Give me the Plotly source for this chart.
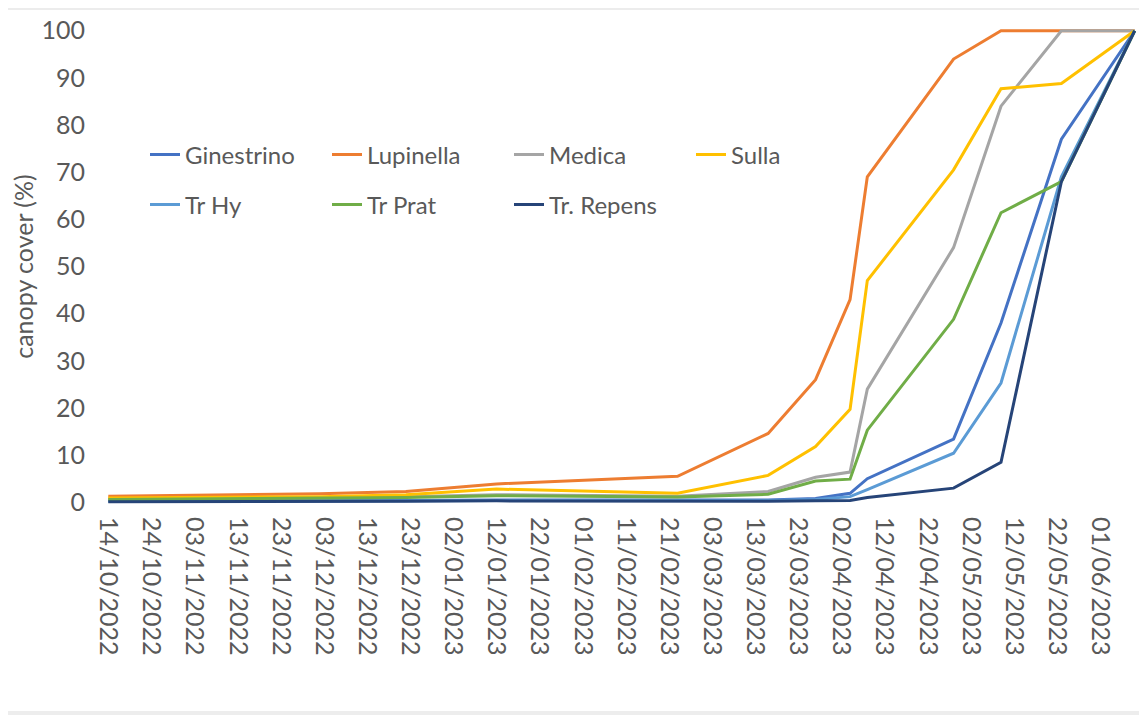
import plotly.graph_objects as go
import pandas as pd

dates = ["2022-10-14", "2022-12-02", "2022-12-22", "2023-01-12", "2023-02-23",
         "2023-03-16", "2023-03-27", "2023-04-04", "2023-04-08", "2023-04-28",
         "2023-05-09", "2023-05-23", "2023-06-09"]

ginestrino = [0.3, 0.3, 0.4, 0.5, 0.4, 0.5, 0.8, 1.9, 5.0, 13.4, 38.0, 77.0, 100]
lupinella = [1.3, 1.8, 2.3, 3.9, 5.5, 14.6, 26.0, 43.0, 69.0, 94.0, 100, 100, 100]
medica = [0.7, 0.9, 1.2, 1.6, 1.3, 2.3, 5.3, 6.4, 24.0, 54.0, 84.0, 100, 100]
sulla = [0.9, 1.2, 1.6, 2.8, 1.9, 5.7, 11.8, 19.7, 47.0, 70.5, 87.7, 88.8, 100]
tr_hy = [0.2, 0.2, 0.3, 0.4, 0.3, 0.4, 0.6, 1.2, 2.7, 10.4, 25.3, 69.0, 100]
tr_prat = [0.6, 0.8, 1.0, 1.4, 1.1, 1.7, 4.5, 4.9, 15.3, 38.8, 61.4, 68.0, 100]
tr_repens = [0.1, 0.1, 0.2, 0.3, 0.2, 0.2, 0.3, 0.4, 1.0, 3.0, 8.5, 68.0, 100]

series_names = ["Ginestrino", "Lupinella", "Medica", "Sulla", "Tr Hy", "Tr Prat", "Tr. Repens"]
series_values = [ginestrino, lupinella, medica, sulla, tr_hy, tr_prat, tr_repens]
series_colors = ["#4472C4", "#ED7D31", "#A5A5A5", "#FFC000", "#5B9BD5", "#70AD47", "#264478"]
series_legend = ["legend", "legend", "legend", "legend", "legend2", "legend2", "legend2"]

tick_dates = pd.date_range("2022-10-14", "2023-06-01", freq="10D")
tick_text = [d.strftime("%d/%m/%Y") for d in tick_dates]
y_ticks = list(range(0, 101, 10))

FONT = "Lato"
GREY = "#595959"

fig = go.Figure()
for name, vals, col, lg in zip(series_names, series_values, series_colors, series_legend):
    fig.add_trace(go.Scatter(x=dates, y=vals, mode="lines", name=name,
                             line=dict(color=col, width=3), legend=lg))

OFF = 8  # page body margin
W, H = 1147 - OFF, 715 - OFF
L, R, T, B = 96, 8, 18, 208
PW, PH = W - L - R, H - T - B


def px_x(page_x):
    return (page_x - OFF - L) / PW


def px_y(page_y):
    return (H - B - (page_y - OFF)) / PH


leg_common = dict(orientation="h", xref="paper", yref="paper",
                  xanchor="left", yanchor="middle", entrywidth=137, entrywidthmode="pixels",
                  font=dict(size=24, color=GREY, family=FONT), bgcolor="rgba(0,0,0,0)")

fig.update_layout(
    width=W, height=H,
    margin=dict(l=L, r=R, t=T, b=B, autoexpand=False),
    paper_bgcolor="white", plot_bgcolor="white",
    font=dict(family=FONT, color=GREY),
    legend=dict(x=px_x(145), y=px_y(155), **leg_common),
    legend2=dict(x=px_x(145), y=px_y(205), **leg_common),
    xaxis=dict(type="date", range=["2022-10-13", "2023-06-10"],
               tickmode="array", tickvals=list(tick_dates), ticktext=tick_text,
               tickangle=90, tickfont=dict(size=25, color=GREY, family=FONT),
               showgrid=False, zeroline=False, showline=False, ticks="",
               ticklabelstandoff=9),
    yaxis=dict(range=[-1, 101], tickmode="array", tickvals=y_ticks,
               tickfont=dict(size=25, color=GREY, family=FONT),
               showgrid=False, zeroline=False, showline=False, ticks="",
               ticklabelstandoff=18,
               title=dict(text="canopy cover (%)", font=dict(size=25, color=GREY, family=FONT),
                          standoff=6)),
    shapes=[
        dict(type="line", xref="paper", yref="paper", x0=px_x(0), x1=px_x(1147),
             y0=px_y(9), y1=px_y(9), line=dict(color="#E6E6E6", width=1.5)),
        dict(type="rect", xref="paper", yref="paper", x0=px_x(0), x1=px_x(1147),
             y0=px_y(711), y1=px_y(716), line=dict(width=0), fillcolor="#EDEDED"),
    ],
)

fig.write_html("out.html")
